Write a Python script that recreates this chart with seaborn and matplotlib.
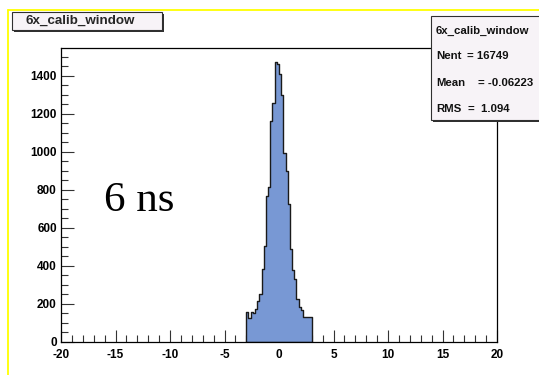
import numpy as np
import pandas as pd
import matplotlib
matplotlib.use("Agg")
import matplotlib.pyplot as plt
import seaborn as sns
from matplotlib.patches import Rectangle
from matplotlib.ticker import MultipleLocator

# ---- data ----
hist_title = "6x_calib_window"
bin_centers = [-2.9, -2.7, -2.5, -2.3, -2.1, -1.9, -1.7, -1.5, -1.3, -1.1,
               -0.9, -0.7, -0.5, -0.3, -0.1, 0.1, 0.3, 0.5, 0.7, 0.9,
               1.1, 1.3, 1.5, 1.7, 1.9, 2.1, 2.3, 2.5, 2.7, 2.9]
counts = [157, 126, 157, 152, 175, 213, 250, 382, 506, 768,
          812, 1161, 1257, 1471, 1461, 1408, 1300, 995, 899, 724,
          489, 379, 332, 227, 183, 169, 134, 134, 134, 134]
stats_names = ["Nent", "Mean", "RMS"]
stats_values = ["= 16749", "= -0.06223", "=  1.094"]
annotation = "6 ns"
x_range = (-20, 20)
bin_width = 0.2

df = pd.DataFrame({"x": bin_centers, "w": counts})

sns.set_theme(style="white")
plt.rcParams["font.family"] = ["Liberation Sans", "DejaVu Sans"]
plt.rcParams["axes.unicode_minus"] = False

W, H = 539, 375
fig = plt.figure(figsize=(W / 100, H / 100), dpi=100)
fig.patch.set_facecolor("white")

def px(x0, y0, x1, y1):
    return [x0 / W, 1 - y1 / H, (x1 - x0) / W, (y1 - y0) / H]

ax = fig.add_axes(px(61, 48, 497, 342))
sns.histplot(data=df, x="x", weights="w", binwidth=bin_width, binrange=(-3, 3),
             element="step", fill=True,
             color="#7898d4", alpha=1.0, edgecolor="#1a1a1a", linewidth=1.0, ax=ax)

ax.set_xlim(*x_range)
ax.set_ylim(0, 1545)
ax.set_xlabel("")
ax.set_ylabel("")
ax.xaxis.set_major_locator(MultipleLocator(5))
ax.xaxis.set_minor_locator(MultipleLocator(1))
ax.yaxis.set_major_locator(MultipleLocator(200))
ax.yaxis.set_minor_locator(MultipleLocator(50))
ax.tick_params(axis="both", which="both", direction="in", colors="#333333",
               labelcolor="black", labelsize=8.5, bottom=True, left=True,
               top=False, right=False)
ax.tick_params(axis="both", which="major", length=9, width=0.8)
ax.tick_params(axis="both", which="minor", length=5, width=0.8)
ax.tick_params(axis="x", pad=5)
ax.tick_params(axis="y", pad=3)
for lab in ax.get_xticklabels() + ax.get_yticklabels():
    lab.set_fontweight("bold")
for s in ax.spines.values():
    s.set_color("black")
    s.set_linewidth(0.9)
ax.grid(False)

ax.text(-16.1, 686, annotation, family=["Liberation Serif", "DejaVu Serif"],
        fontsize=31, va="baseline", ha="left", color="black")

# yellow pad highlight
fig.add_artist(plt.Line2D([8 / W, 1], [1 - 10 / H, 1 - 10 / H], color="#ffff00", lw=1.3,
                          transform=fig.transFigure))
fig.add_artist(plt.Line2D([8 / W, 8 / W], [0, 1 - 10 / H], color="#ffff00", lw=1.3,
                          transform=fig.transFigure))

def box(x0, y0, x1, y1, sh=2):
    fig.add_artist(Rectangle((x0 / W + sh / W, 1 - (y1 + sh) / H), (x1 - x0) / W, (y1 - y0) / H,
                             transform=fig.transFigure, facecolor="#303030", edgecolor="none",
                             zorder=10))
    fig.add_artist(Rectangle((x0 / W, 1 - y1 / H), (x1 - x0) / W, (y1 - y0) / H,
                             transform=fig.transFigure, facecolor="#f7f3f7", edgecolor="#303030",
                             lw=0.8, zorder=11))

# title box
box(12, 12, 162, 30)
fig.text(26 / W, 1 - 21 / H, hist_title, fontsize=9.6, fontweight="bold",
         va="center", ha="left", zorder=12)

# stats box
box(431, 16, 545, 120)
fig.text(436 / W, 1 - 31 / H, hist_title, fontsize=8.2, fontweight="bold",
         va="center", ha="left", zorder=12, color="#111111")
ys = [56, 83, 109]
eq_x = [467, 478, 468]
for name, val, y, ex in zip(stats_names, stats_values, ys, eq_x):
    fig.text(436 / W, 1 - y / H, name, fontsize=8.2, fontweight="bold",
             va="center", ha="left", zorder=12, color="#111111")
    fig.text(ex / W, 1 - y / H, val, fontsize=8.2, fontweight="bold",
             va="center", ha="left", zorder=12, color="#111111")

fig.savefig("out.png", dpi=100)
